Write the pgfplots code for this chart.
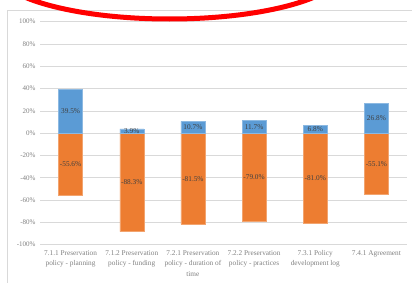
\documentclass[border=0pt]{standalone}
\usepackage{fontspec}
\setmainfont{Liberation Serif}
\usepackage{pgfplots}
\pgfplotsset{compat=1.18}
\definecolor{xblue}{HTML}{5B9BD5}
\definecolor{xorange}{HTML}{ED7D31}
\definecolor{xgrid}{HTML}{D9D9D9}
\definecolor{xtick}{HTML}{808080}
\definecolor{xlab}{HTML}{404040}
\begin{document}
\begin{tikzpicture}[x=1pt,y=1pt]
\useasboundingbox (0,0) rectangle (412,282);
\clip (0,0) rectangle (412,282);
\draw[xgrid, line width=0.8pt] (7,-10) rectangle (430,272);
\begin{axis}[
  at={(40pt,37.3pt)}, anchor=south west,
  scale only axis, width=367pt, height=223pt,
  xmin=-0.5, xmax=5.5, ymin=-100, ymax=100,
  axis line style={draw=none},
  major tick style={draw=none},
  ymajorgrids, grid style={xgrid, line width=0.7pt},
  ytick={-100,-80,-60,-40,-20,0,20,40,60,80,100},
  yticklabels={-100\%,-80\%,-60\%,-40\%,-20\%,0\%,20\%,40\%,60\%,80\%,100\%},
  yticklabel style={font=\fontsize{7}{8}\selectfont, text=xtick, xshift=-1pt},
  xtick={0,1,2,3,4,5},
  xticklabels={{7.1.1 Preservation\\policy - planning},{7.1.2 Preservation\\policy - funding},{7.2.1 Preservation\\policy - duration of\\time},{7.2.2 Preservation\\policy - practices},{7.3.1 Policy\\development log},{7.4.1 Agreement}},
  xticklabel style={font=\fontsize{7.3}{10.5}\selectfont, text=xtick, align=center, anchor=north, yshift=-2pt},
  clip=false,
]
\addplot[ybar, bar width=24pt, bar shift=0pt, fill=xorange, draw=xorange!70!white, line width=0.4pt]
  coordinates {(0,-55.6) (1,-88.3) (2,-81.5) (3,-79.0) (4,-81.0) (5,-55.1)};
\addplot[ybar, bar width=24pt, bar shift=0pt, fill=xblue, draw=xblue!70!white, line width=0.4pt]
  coordinates {(0,39.5) (1,3.9) (2,10.7) (3,11.7) (4,6.8) (5,26.8)};
\addplot[draw=none, mark=none, nodes near coords, point meta=explicit symbolic,
  every node near coord/.style={anchor=center, font=\fontsize{7.3}{8}\selectfont, text=xlab}]
  table[meta=lab] {
x y lab
0 19.75 39.5\%
1 1.95 3.9\%
2 5.35 10.7\%
3 5.85 11.7\%
4 3.4 6.8\%
5 13.4 26.8\%
0 -27.8 -55.6\%
1 -44.15 -88.3\%
2 -40.75 -81.5\%
3 -39.5 -79.0\%
4 -40.5 -81.0\%
5 -27.55 -55.1\%
};
\end{axis}
\draw[red, line width=5pt] (169.5,313) ellipse [x radius=175, y radius=50];
\end{tikzpicture}
\end{document}
